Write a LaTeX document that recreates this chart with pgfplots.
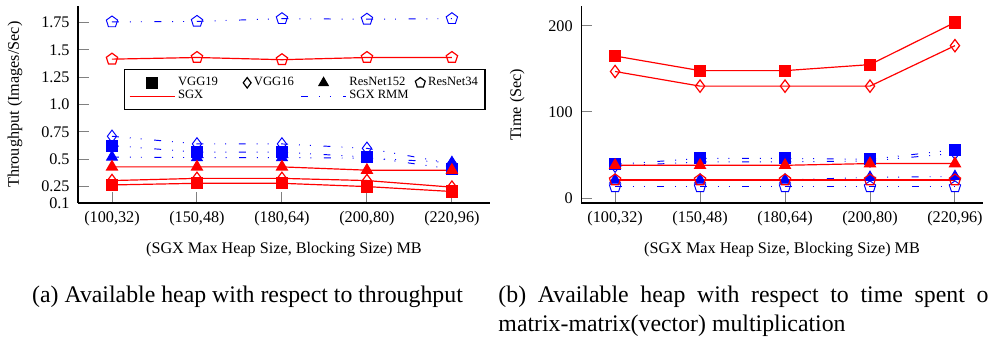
\documentclass[border=0pt]{standalone}
\usepackage{fontspec}
\setmainfont{Liberation Serif}
\usepackage{pgfplots}
\pgfplotsset{compat=1.18}
\pgfplotsset{
  base/.style={
    scale only axis,
    axis x line*=bottom, axis y line*=left,
    axis line style={-, black, line width=0.5pt},
    tick style={gray, line width=0.4pt},
    tick align=inside,
    major tick length=4.6pt,
    xtick={0,1,2,3,4},
    xticklabels={(100,32),(150,48),(180,64),(200,80),(220,96)},
    xmin=-0.4,
    ticklabel style={font=\fontsize{6.8}{8}\selectfont},
    label style={font=\fontsize{6.8}{8}\selectfont},
    /pgf/number format/assume math mode=true,
    xlabel={(SGX Max Heap Size, Blocking Size) MB},
    xlabel style={at={(axis description cs:0.5,-0.239)}, anchor=center},
    clip=false,
    legend image code/.code={\draw[mark repeat=2,mark phase=2,##1] plot coordinates {(0pt,0pt)(9.45pt,0pt)(18.9pt,0pt)};},
  },
  sgx/.style={red, line width=0.5pt, mark options={solid}},
  rmm/.style={blue, line width=0.4pt, dash pattern=on 2.9pt off 4.6pt on 0.4pt off 4.2pt on 0.4pt off 5.3pt, mark options={solid}},
  msq/.style={mark=square*, mark size=2.3pt},
  mdi/.style={mark=diamond, mark size=2.6pt},
  mtr/.style={mark=triangle*, mark size=2.6pt},
  mpe/.style={mark=pentagon, mark size=2.5pt},
}
\begin{document}
\begin{tikzpicture}
\begin{axis}[base,
  at={(0pt,0pt)}, anchor=south west,
  width=173pt, height=82.7pt,
  xmax=4.447, ymin=0.1, ymax=1.9,
  ytick={0.1,0.25,0.5,0.75,1.0,1.25,1.5,1.75},
  yticklabels={0.1,0.25,0.5,0.75,1.0,1.25,1.5,1.75},
  ylabel={Throughput (Images/Sec)},
  ylabel style={at={(axis description cs:-0.153,0.5)}, anchor=center},
  legend columns=4,
  legend cell align=left,
  legend style={at={(0.112,0.68)}, anchor=north west,
    font=\fontsize{5.3}{6}\selectfont, draw=black, line width=0.5pt,
    inner sep=1.8pt, row sep=-1.8pt,
    nodes={inner sep=1.2pt},
    /tikz/every even column/.append style={column sep=1.6pt}},
]
\addlegendimage{black, only marks, msq}\addlegendentry{VGG19}
\addlegendimage{black, only marks, mark=diamond, mark size=2.2pt}\addlegendentry{VGG16}
\addlegendimage{black, only marks, mark=triangle*, mark size=2.2pt}\addlegendentry{ResNet152}
\addlegendimage{black, only marks, mark=pentagon, mark size=2.2pt}\addlegendentry{ResNet34}
\addlegendimage{sgx}\addlegendentry{SGX}
\addlegendimage{empty legend}\addlegendentry{}
\addlegendimage{rmm}\addlegendentry{SGX RMM}
% SGX RMM (blue)
\addplot[rmm, mpe, forget plot] coordinates {(0,1.755)(1,1.76)(2,1.785)(3,1.78)(4,1.785)};
\addplot[rmm, mdi, forget plot] coordinates {(0,0.71)(1,0.64)(2,0.64)(3,0.60)(4,0.46)};
\addplot[rmm, mtr, forget plot] coordinates {(0,0.52)(1,0.515)(2,0.515)(3,0.51)(4,0.47)};
\addplot[rmm, msq, forget plot] coordinates {(0,0.625)(1,0.565)(2,0.565)(3,0.52)(4,0.41)};
% SGX (red)
\addplot[sgx, mpe, forget plot] coordinates {(0,1.415)(1,1.43)(2,1.41)(3,1.43)(4,1.43)};
\addplot[sgx, mtr, forget plot] coordinates {(0,0.43)(1,0.43)(2,0.43)(3,0.40)(4,0.40)};
\addplot[sgx, mdi, forget plot] coordinates {(0,0.305)(1,0.325)(2,0.325)(3,0.305)(4,0.245)};
\addplot[sgx, msq, forget plot] coordinates {(0,0.265)(1,0.28)(2,0.28)(3,0.25)(4,0.205)};
\end{axis}
\begin{axis}[base,
  at={(211.3pt,0pt)}, anchor=south west,
  width=168.8pt, height=82.7pt,
  xmax=4.33, ymin=-5.8, ymax=223,
  ytick={0,100,200},
  ylabel={Time (Sec)},
  ylabel style={at={(axis description cs:-0.159,0.5)}, anchor=center},
]
% SGX RMM (blue)
\addplot[rmm, mpe] coordinates {(0,13)(1,13)(2,13)(3,13)(4,13)};
\addplot[rmm, mtr] coordinates {(0,21)(1,21)(2,21)(3,24)(4,25)};
\addplot[rmm, mdi] coordinates {(0,37)(1,42)(2,42)(3,43)(4,52)};
\addplot[rmm, msq] coordinates {(0,39)(1,46)(2,46)(3,45)(4,56)};
% SGX (red)
\addplot[sgx, mpe] coordinates {(0,21)(1,21)(2,21)(3,21)(4,21)};
\addplot[sgx, mtr] coordinates {(0,38)(1,38)(2,38)(3,40)(4,40)};
\addplot[sgx, mdi] coordinates {(0,147)(1,130)(2,130)(3,130)(4,177)};
\addplot[sgx, msq] coordinates {(0,165)(1,148)(2,148)(3,155)(4,204)};
\end{axis}
\node[anchor=base, inner sep=0pt, font=\fontsize{10}{12}\selectfont] at (71.2pt,-41.9pt) {(a) Available heap with respect to throughput};
\node[anchor=base west, inner sep=0pt, font=\fontsize{10}{12}\selectfont] at (176.4pt,-41.9pt) {\makebox[210.8pt][s]{(b) Available heap with respect to time spent on}};
\node[anchor=base west, inner sep=0pt, font=\fontsize{10}{12}\selectfont] at (176.4pt,-53.8pt) {matrix-matrix(vector) multiplication};
\pgfresetboundingbox
\useasboundingbox (-32.76pt,-56.28pt) rectangle (382.62pt,85.26pt);
\end{tikzpicture}
\end{document}
